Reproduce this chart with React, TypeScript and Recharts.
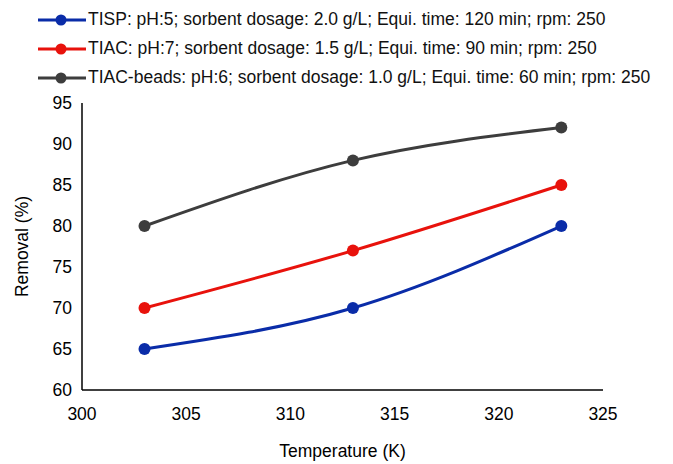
import React from 'react';
import { LineChart, Line, XAxis, YAxis } from 'recharts';

const temperatures = [303, 313, 323];
const tispRemoval = [65, 70, 80];
const tiacRemoval = [70, 77, 85];
const beadsRemoval = [80, 88, 92];

const xTicks = [300, 305, 310, 315, 320, 325];
const yTicks = [60, 65, 70, 75, 80, 85, 90, 95];

const SERIES = [
    { key: 'tisp', color: '#0a2ca8', name: 'TISP: pH:5; sorbent dosage: 2.0 g/L; Equi. time: 120 min; rpm: 250' },
    { key: 'tiac', color: '#e8120c', name: 'TIAC: pH:7; sorbent dosage: 1.5 g/L; Equi. time: 90 min; rpm: 250' },
    { key: 'beads', color: '#3d3d3d', name: 'TIAC-beads: pH:6; sorbent dosage: 1.0 g/L; Equi. time: 60 min; rpm: 250' },
];

const data = temperatures.map((t, i) => ({
    temp: t,
    tisp: tispRemoval[i],
    tiac: tiacRemoval[i],
    beads: beadsRemoval[i],
}));

const FONT = 'Arial, "Liberation Sans", Helvetica, sans-serif';

// legend sits above the plot, drawn outside recharts so it doesn't push the plot down
const LegendBox = () => (
    <div style={{ position: 'absolute', left: 30, top: -3, fontFamily: FONT, fontSize: 17.5, color: '#111' }}>
        {SERIES.map((s) => (
            <div key={s.key} style={{ display: 'flex', alignItems: 'center', height: 29, whiteSpace: 'nowrap' }}>
                <svg width={50} height={14}>
                    <line x1={0} y1={7} x2={48} y2={7} stroke={s.color} strokeWidth={3} />
                    <circle cx={23} cy={7} r={5.5} fill={s.color} />
                </svg>
                <span>{s.name}</span>
            </div>
        ))}
    </div>
);

const App: React.FC = () => {
    return (
        <div style={{ position: 'relative', width: 657, height: 456 }}>
            <LineChart
                width={657}
                height={456}
                data={data}
                margin={{ top: 95, right: 62, bottom: 24, left: 0 }}
                style={{ fontFamily: FONT }}
            >
                <XAxis
                    dataKey="temp"
                    type="number"
                    domain={[300, 325]}
                    ticks={xTicks}
                    height={50}
                    tickLine={false}
                    tickSize={0}
                    tickMargin={18}
                    axisLine={{ stroke: '#000', strokeWidth: 1.5 }}
                    tick={{ fill: '#000', fontSize: 17.5 }}
                    label={{ value: 'Temperature (K)', position: 'insideBottom', offset: -17, fill: '#000', fontSize: 17.5 }}
                />
                <YAxis
                    type="number"
                    domain={[60, 95]}
                    ticks={yTicks}
                    width={74}
                    tickLine={false}
                    tickSize={0}
                    tickMargin={10}
                    axisLine={{ stroke: '#000', strokeWidth: 1.5 }}
                    tick={{ fill: '#000', fontSize: 17.5 }}
                    label={{ value: 'Removal (%)', angle: -90, position: 'insideLeft', offset: 14, fill: '#000', fontSize: 17.5, style: { textAnchor: 'middle' } }}
                />
                {SERIES.map((s) => (
                    <Line
                        key={s.key}
                        dataKey={s.key}
                        name={s.name}
                        type="natural"
                        stroke={s.color}
                        strokeWidth={3}
                        dot={{ r: 6, fill: s.color, stroke: s.color, strokeWidth: 0 }}
                        activeDot={false}
                        isAnimationActive={false}
                    />
                ))}
            </LineChart>
            <LegendBox />
        </div>
    );
};

export default App;
